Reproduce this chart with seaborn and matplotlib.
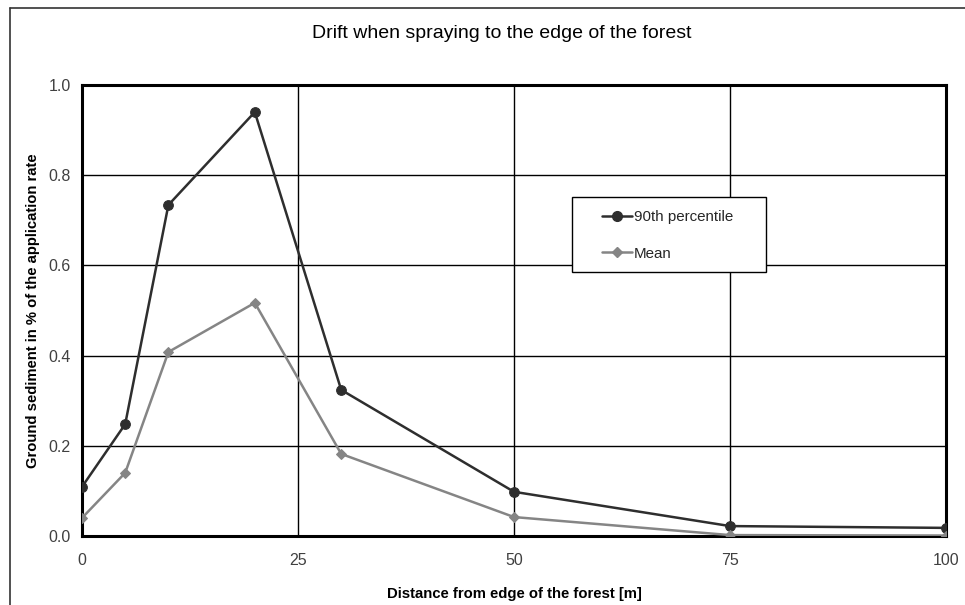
import matplotlib
matplotlib.use("Agg")
import matplotlib.pyplot as plt
from matplotlib.patches import Rectangle
from matplotlib.lines import Line2D
import seaborn as sns
import pandas as pd

# Drift measurements: distance from forest edge [m] and ground sediment [% of rate]
distance = [0, 5, 10, 20, 30, 50, 75, 100]
p90 = [0.109, 0.248, 0.734, 0.940, 0.324, 0.098, 0.022, 0.018]
mean = [0.040, 0.140, 0.408, 0.517, 0.182, 0.042, 0.002, 0.001]
series_names = ["90th percentile", "Mean"]
x_ticks = [0, 25, 50, 75, 100]
y_ticks = [0.0, 0.2, 0.4, 0.6, 0.8, 1.0]

df = pd.DataFrame({
    "distance": distance * 2,
    "value": p90 + mean,
    "series": [series_names[0]] * len(distance) + [series_names[1]] * len(distance),
})

sns.set_theme(style="white")
plt.rcParams["font.family"] = ["Liberation Sans", "DejaVu Sans"]

fig = plt.figure(figsize=(9.65, 6.05), dpi=100)
ax = fig.add_axes([82 / 965, 1 - 536 / 605, 864 / 965, 451 / 605])

colors = {"90th percentile": "#2e2e2e", "Mean": "#858585"}
markers = {"90th percentile": "o", "Mean": "D"}
sizes = {"90th percentile": 7, "Mean": 5}

for name in series_names:
    sub = df[df["series"] == name]
    sns.lineplot(data=sub, x="distance", y="value", ax=ax, color=colors[name],
                 marker=markers[name], markersize=sizes[name],
                 markeredgecolor=colors[name], linewidth=1.8, zorder=3,
                 legend=False)

ax.set_xlim(0, 100)
ax.set_ylim(0, 1.0)
ax.set_xticks(x_ticks)
ax.set_yticks(y_ticks)
ax.set_xticklabels([str(t) for t in x_ticks])
ax.set_yticklabels([f"{t:.1f}" for t in y_ticks])
ax.tick_params(axis="both", length=0, labelsize=11.5, colors="#404040")
ax.tick_params(axis="x", pad=12)
ax.tick_params(axis="y", pad=8)
ax.grid(True, color="black", linewidth=1.0)
for s in ax.spines.values():
    s.set_color("black")
    s.set_linewidth(2.2)
ax.set_axisbelow(True)

ax.set_xlabel("Distance from edge of the forest [m]", fontsize=10.7,
              fontweight="bold", color="black", labelpad=14)
ax.set_ylabel("Ground sediment in % of the application rate", fontsize=10.7,
              fontweight="bold", color="black", labelpad=6)

fig.text(502 / 965, 1 - 33 / 605, "Drift when spraying to the edge of the forest",
         ha="center", va="center", fontsize=14, color="black")

# Legend box with handles drawn inside it
box = Rectangle((0.567, 0.585), 0.225, 0.167, transform=ax.transAxes,
                facecolor="white", edgecolor="black", linewidth=1.0, zorder=4)
ax.add_patch(box)
handles = [Line2D([], [], color=colors[n], marker=markers[n], markersize=sizes[n],
                  linewidth=1.8) for n in series_names]
ax.legend(handles, series_names, loc="upper left",
          bbox_to_anchor=(0.602, 0.723), frameon=False, fontsize=10.9,
          handlelength=2.0, handletextpad=0.1, labelspacing=1.5,
          borderpad=0, borderaxespad=0)

# Outer figure border (left and top)
fig.add_artist(Line2D([10 / 965, 10 / 965], [0, 1 - 8 / 605],
                      transform=fig.transFigure, color="#333333", linewidth=1.2))
fig.add_artist(Line2D([10 / 965, 1], [1 - 8 / 605, 1 - 8 / 605],
                      transform=fig.transFigure, color="#333333", linewidth=1.2))

fig.savefig("out.png", dpi=100, facecolor="white")
